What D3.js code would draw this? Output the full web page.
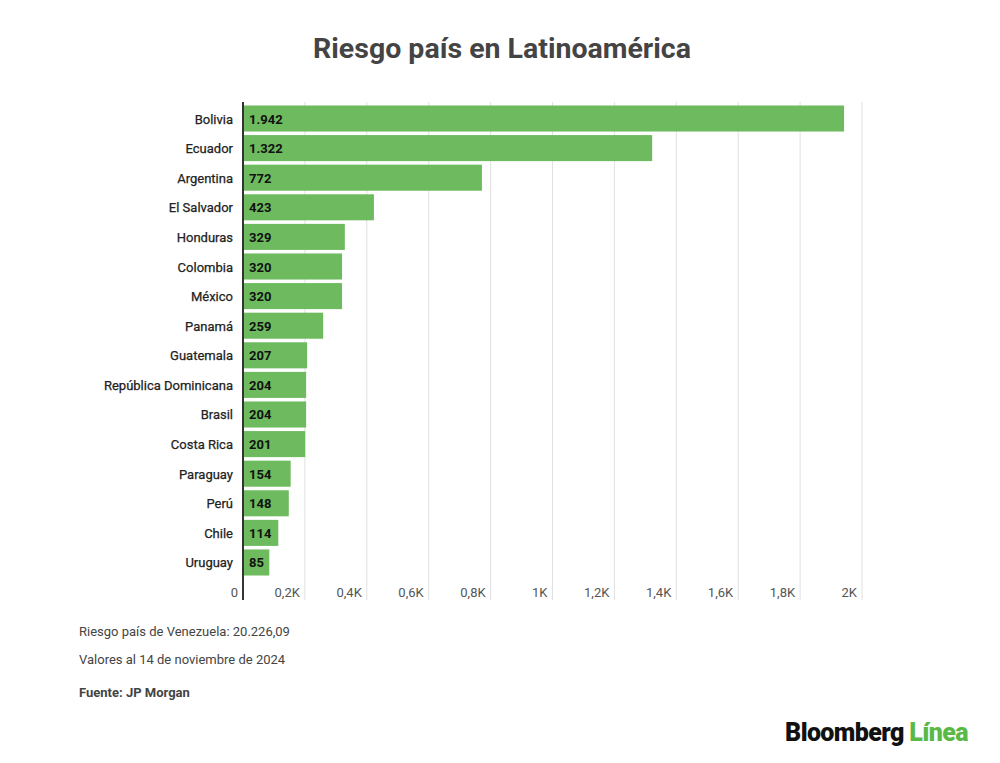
<!DOCTYPE html>
<html lang="es">
<head>
<meta charset="UTF-8">
<script src="https://cdnjs.cloudflare.com/ajax/libs/d3/7.8.5/d3.min.js"></script>
<style>
    body { margin: 0; background: #fff; font-family: Roboto, "Noto Sans", sans-serif; }
</style>
</head>
<body>
<svg width="1000" height="763"></svg>
<script>
    const countries = ["Bolivia", "Ecuador", "Argentina", "El Salvador", "Honduras", "Colombia", "México", "Panamá",
        "Guatemala", "República Dominicana", "Brasil", "Costa Rica", "Paraguay", "Perú", "Chile", "Uruguay"];
    const values = [1942, 1322, 772, 423, 329, 320, 320, 259, 207, 204, 204, 201, 154, 148, 114, 85];
    const ticks = [0, 200, 400, 600, 800, 1000, 1200, 1400, 1600, 1800, 2000];
    const tickLabels = ["0", "0,2K", "0,4K", "0,6K", "0,8K", "1K", "1,2K", "1,4K", "1,6K", "1,8K", "2K"];
    const notes = ["Riesgo país de Venezuela: 20.226,09", "Valores al 14 de noviembre de 2024"];

    const svg = d3.select("svg");
    const x = d3.scaleLinear().domain([0, 2000]).range([243, 862]);
    const y = d3.scaleBand().domain(countries).range([104, 577]).paddingInner(0.12).paddingOuter(0.05);

    svg.append("text").attr("x", 502).attr("y", 58).attr("text-anchor", "middle")
        .attr("font-size", 28.5).attr("font-weight", "bold").attr("fill", "#444")
        .text("Riesgo país en Latinoamérica");

    // gridlines
    svg.append("g").selectAll("line").data(ticks.slice(1)).enter().append("line")
        .attr("x1", d => x(d)).attr("x2", d => x(d)).attr("y1", 102).attr("y2", 600)
        .attr("stroke", "#e0e0e0").attr("stroke-width", 1);

    svg.append("g").selectAll("text").data(ticks).enter().append("text")
        .attr("x", d => x(d) - 5).attr("y", 597)
        .attr("text-anchor", "end").attr("font-size", 13).attr("fill", "#555")
        .text((d, i) => tickLabels[i]);

    const bars = svg.append("g").selectAll("g").data(countries).enter().append("g");
    bars.append("rect")
        .attr("x", x(0)).attr("y", d => y(d))
        .attr("width", (d, i) => x(values[i]) - x(0)).attr("height", y.bandwidth())
        .attr("fill", "#6dbb5e");
    bars.append("text")
        .attr("x", x(0) + 6).attr("y", d => y(d) + y.bandwidth() / 2 + 5)
        .attr("font-size", 13).attr("font-weight", "bold").attr("fill", "#111")
        .text((d, i) => d3.format(",")(values[i]).replace(",", "."));
    bars.append("text")
        .attr("x", 233).attr("y", d => y(d) + y.bandwidth() / 2 + 5)
        .attr("text-anchor", "end").attr("font-size", 13).attr("fill", "#222")
        .attr("stroke", "#222").attr("stroke-width", 0.25)
        .text(d => d);

    svg.append("line").attr("x1", x(0)).attr("x2", x(0)).attr("y1", 102).attr("y2", 600)
        .attr("stroke", "#333").attr("stroke-width", 2);

    svg.append("g").selectAll("text").data(notes).enter().append("text")
        .attr("x", 79).attr("y", (d, i) => 636 + i * 28)
        .attr("font-size", 13).attr("fill", "#444").text(d => d);
    svg.append("text").attr("x", 79).attr("y", 697).attr("font-size", 13)
        .attr("font-weight", "bold").attr("fill", "#444").text("Fuente: JP Morgan");

    const logo = svg.append("text").attr("x", 968).attr("y", 741).attr("text-anchor", "end")
        .attr("font-size", 25).attr("font-weight", 900).attr("letter-spacing", -0.6);
    logo.append("tspan").attr("fill", "#111").text("Bloomberg ");
    logo.append("tspan").attr("fill", "#5ab946").text("Línea");
</script>
</body>
</html>
